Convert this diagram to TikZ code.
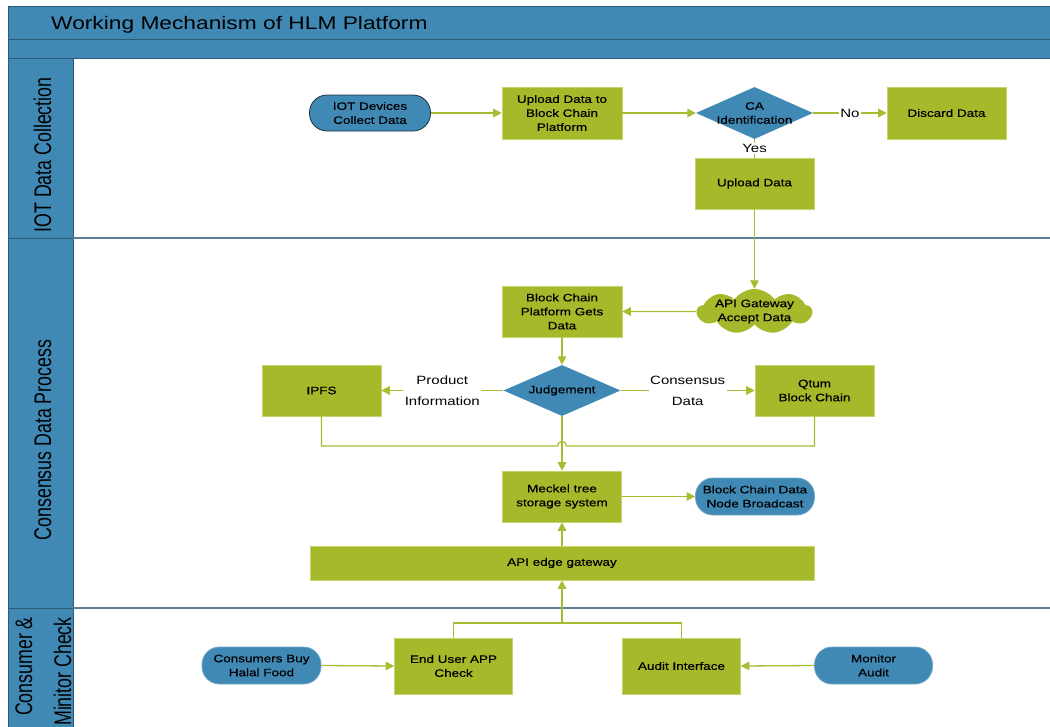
\documentclass[tikz,border=0pt]{standalone}
\usepackage{fontspec}
\setmainfont{Liberation Sans}[FakeStretch=1.25]
\newfontfamily\nodefont{Liberation Sans}[FakeStretch=1.25,FakeBold=0.5]
\newfontfamily\lanefont{Liberation Sans}[FakeStretch=0.74]
\usetikzlibrary{shapes.geometric,shapes.symbols,arrows.meta}
\definecolor{hlmblue}{RGB}{64,137,181}
\definecolor{hlmdark}{RGB}{45,88,118}
\definecolor{hlmgreen}{RGB}{166,185,42}
\definecolor{hlmgreenedge}{RGB}{198,213,112}
\definecolor{hlmline}{RGB}{168,188,50}
\definecolor{lanerule}{RGB}{95,125,148}
\definecolor{termedge}{RGB}{30,50,70}
\begin{document}
\begin{tikzpicture}[x=1pt,y=-1pt,
  nodetext/.style={font=\nodefont\fontsize{10.8}{14}\selectfont, align=center, text=black},
  greenbox/.style={rectangle, fill=hlmgreen, draw=hlmgreenedge, line width=0.6pt, inner sep=0pt, minimum width=119pt, minimum height=51pt, nodetext},
  terminal/.style={rectangle, rounded corners=17.5pt, fill=hlmblue, draw=#1, line width=0.8pt, inner sep=0pt, minimum width=119pt, minimum height=37pt, nodetext},
  terminal/.default={hlmblue!75!white},
  decision/.style={diamond, fill=hlmblue, draw=none, inner sep=0pt, minimum width=117pt, minimum height=51pt},
  inside/.style={label={[nodetext]center:#1}},
  flow/.style={draw=hlmline, line width=1.3pt, -{Triangle[length=8.5pt,width=8.5pt]}},
  plain/.style={draw=hlmline, line width=1.3pt},
  flowlabel/.style={fill=white, inner sep=1.5pt, align=center, font=\fontsize{12}{21}\selectfont, text=black},
  lanelabel/.style={font=\lanefont\fontsize{24}{28}\selectfont, rotate=90, text=black, inner sep=0pt},
]
\useasboundingbox (0,0) rectangle (1050,726);
\clip (0,0) rectangle (1050,726);

% frame
\draw[hlmdark, line width=0.8pt, fill=hlmblue] (8,6) rectangle (1056,39);
\draw[hlmdark, line width=0.8pt, fill=hlmblue] (8,39) rectangle (1056,58);
\draw[hlmdark, line width=0.8pt, fill=hlmblue] (8,58) rectangle (73,740);
\draw[hlmdark, line width=0.8pt] (8,238) -- (73,238) (8,608) -- (73,608);
\draw[lanerule, line width=1.2pt] (73,238) -- (1056,238) (73,608) -- (1056,608);

\node[font=\fontsize{18.2}{22}\selectfont, anchor=base west, inner sep=0pt, text=black] (title) at (51,29) {Working Mechanism of HLM Platform};

\node[lanelabel, anchor=base] (lane1) at (51,155) {IOT Data Collection};
\node[lanelabel, anchor=base] (lane2) at (51,440) {Consensus Data Process};
\node[lanelabel, anchor=base east] (lane3a) at (32,617) {Consumer \&};
\node[lanelabel, anchor=base east] (lane3b) at (71,617) {Minitor Check};

% lane 1
\node[terminal=termedge, minimum width=121pt, minimum height=36pt] (iot) at (370,113) {IOT Devices\\Collect Data};
\node[greenbox, minimum width=120pt, minimum height=52pt] (upload) at (562,113) {Upload Data to\\Block Chain\\Platform};
\node[decision, minimum height=52pt, inside={CA\\Identification}] (ca) at (754.5,113) {};
\node[greenbox, minimum height=52pt] (discard) at (946.5,113) {Discard Data};
\node[greenbox] (uploaddata) at (754.5,183.5) {Upload Data};

% lane 2
\node[cloud, cloud puffs=9, cloud puff arc=110, aspect=2.6, fill=hlmgreen, draw=none, inner sep=0pt, minimum width=115pt, minimum height=45pt, inside={API Gateway\\Accept Data}] (cloud) at (754.5,311.5) {};
\node[greenbox, minimum width=120pt] (gets) at (562,311.5) {Block Chain\\Platform Gets\\Data};
\node[decision, inside={Judgement}] (judge) at (562,390.5) {};
\node[greenbox] (ipfs) at (321.5,390.5) {IPFS};
\node[greenbox] (qtum) at (814.5,390.5) {Qtum\\Block Chain};
\node[greenbox] (meckel) at (562,496.5) {Meckel tree\\storage system};
\node[terminal] (broadcast) at (755,496.5) {Block Chain Data\\Node Broadcast};
\node[greenbox, minimum width=504pt, minimum height=34pt] (apiedge) at (562,563) {API edge gateway};
\coordinate (merge) at (562,446);

% lane 3
\node[greenbox, minimum width=118pt, minimum height=56pt] (enduser) at (453.5,666) {End User APP\\Check};
\node[greenbox, minimum width=118pt, minimum height=56pt] (audit) at (681.5,666) {Audit Interface};
\node[terminal] (consumers) at (261.5,665.5) {Consumers Buy\\Halal Food};
\node[terminal, minimum width=118pt] (monitor) at (873.5,665.5) {Monitor\\Audit};
\coordinate (join) at (562,623);

% connectors
\draw[flow] (iot) -- (upload);
\draw[flow] (upload) -- (ca);
\draw[flow] (ca.east) -- node[flowlabel] (nolab) {No} (discard.west);
\draw[plain] (ca.south) -- node[flowlabel, inner sep=1pt] (yeslab) {Yes} (uploaddata.north);
\draw[flow] (uploaddata.south) -- (cloud.north);
\draw[flow] (cloud.west) -- (gets.east);
\draw[flow] (gets.south) -- (judge.north);
\draw[flow] (judge.west) -- node[flowlabel] (prodlab) {Product\\Information} (ipfs.east);
\draw[flow] (judge.east) -- node[flowlabel] (conslab) {Consensus\\Data} (qtum.west);
\draw[plain] (ipfs.south) |- ([xshift=-4.5pt]merge) arc[start angle=180, end angle=0, radius=4.5pt] -| (qtum.south);
\draw[flow] (judge.south) -- (meckel.north);
\draw[flow] (meckel.east) -- (broadcast.west);
\draw[flow] (apiedge.north) -- (meckel.south);
\draw[plain] (enduser.north) |- (join) -| (audit.north);
\draw[flow] (join) -- (apiedge.south);
\draw[flow] (consumers.east) -- (enduser.west);
\draw[flow] (monitor.west) -- (audit.east);
\end{tikzpicture}
\end{document}
